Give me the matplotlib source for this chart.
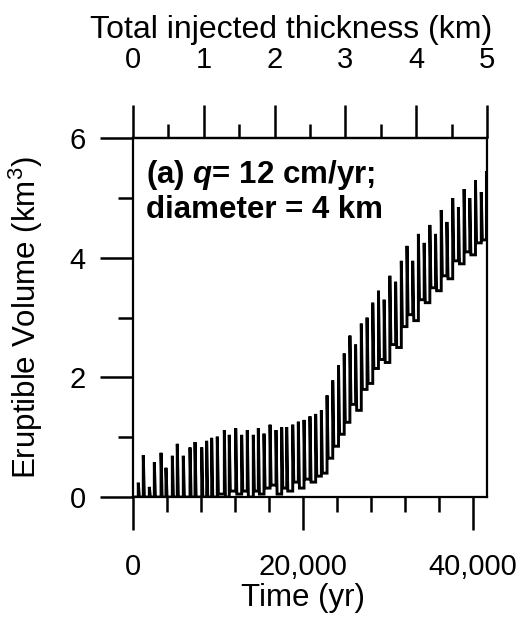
"""
Eruptible volume vs. time for sill injection at q = 12 cm/yr,
with the equivalent injected thickness on the top axis.
"""
import matplotlib
matplotlib.use("Agg")
import matplotlib.pyplot as plt
from matplotlib.ticker import MultipleLocator, FuncFormatter

# injection rate (m/yr) links time to injected thickness
Q_RATE = 0.12
T_MAX = 5000.0 / Q_RATE

# time of each injection (yr), peak and post-cooling volume (km^3)
cycle_time = [
    620, 1210, 1920, 2510, 3300, 3880, 4630, 5210, 5920, 6710,
    7300, 8090, 8670, 9260, 9920, 10750, 11330, 12090, 12790, 13450,
    14160, 14750, 15420, 16130, 16830, 17500, 18090, 18800, 19460, 20130,
    20830, 21500, 22170, 22840, 23510, 24190, 24860, 25530, 26200, 26870,
    27550, 28220, 28890, 29560, 30230, 30910, 31580, 32250, 32920, 33590,
    34270, 34940, 35610, 36280, 36950, 37630, 38300, 38970, 39640, 40310,
    40990, 41600,
]
peak_vol = [
    0.24, 0.70, 0.17, 0.58, 0.74, 0.49, 0.69, 0.89, 0.69, 0.83,
    0.92, 0.83, 0.94, 0.99, 1.01, 1.12, 1.04, 1.15, 1.04, 1.12,
    1.04, 1.15, 1.06, 1.21, 1.12, 1.17, 1.17, 1.21, 1.26, 1.29,
    1.35, 1.39, 1.45, 1.70, 1.95, 2.20, 2.40, 2.70, 2.55, 2.90,
    3.00, 3.25, 3.45, 3.30, 3.70, 3.60, 3.95, 4.20, 3.95, 4.40,
    4.25, 4.55, 4.40, 4.80, 4.60, 5.00, 4.85, 5.15, 5.00, 5.30,
    5.10, 5.45,
]
trough_vol = [
    0.0, 0.0, 0.0, 0.0, 0.0, 0.0, 0.0, 0.0, 0.0, 0.0,
    0.0, 0.0, 0.0, 0.0, 0.05, 0.0, 0.10, 0.05, 0.10, 0.0,
    0.10, 0.05, 0.15, 0.20, 0.05, 0.15, 0.10, 0.25, 0.15, 0.30,
    0.25, 0.35, 0.40, 0.65, 0.85, 1.05, 1.25, 1.55, 1.45, 1.80,
    1.90, 2.15, 2.30, 2.25, 2.55, 2.50, 2.85, 3.05, 2.95, 3.30,
    3.25, 3.50, 3.45, 3.70, 3.65, 3.95, 3.90, 4.10, 4.05, 4.25,
    4.30, 4.45,
]
DECAY = 130.0  # yr taken by each drop after an injection (drawing only)

plt.rcParams["font.family"] = ["Liberation Sans", "DejaVu Sans"]
plt.rcParams["mathtext.fontset"] = "custom"
plt.rcParams["mathtext.it"] = "Liberation Sans:italic:bold"
plt.rcParams["mathtext.rm"] = "Liberation Sans"

# jump at each injection, quick drop, then hold until the next one
xs, ys = [0.0], [0.0]
prev = 0.0
for t, hi, lo in zip(cycle_time, peak_vol, trough_vol):
    xs += [t, t, t + DECAY]
    ys += [prev, hi, lo]
    prev = lo

fig = plt.figure(figsize=(5.29, 6.19), dpi=100)
ax = fig.add_axes([0.2514, 0.197, 0.6692, 0.5797])

ax.plot(xs, ys, color="black", linewidth=2.1, solid_joinstyle="miter")

ax.set_xlim(0, T_MAX)
ax.set_ylim(0, 6)

for side in ["left", "right", "top", "bottom"]:
    ax.spines[side].set_linewidth(1.6)

ax.xaxis.set_major_locator(MultipleLocator(20000))
ax.xaxis.set_minor_locator(MultipleLocator(4000))
ax.xaxis.set_major_formatter(FuncFormatter(lambda v, p: f"{int(v):,}"))
ax.yaxis.set_major_locator(MultipleLocator(2))
ax.yaxis.set_minor_locator(MultipleLocator(1))

ax.tick_params(which="both", direction="out", width=1.8, labelsize=21,
               top=False, right=False)
ax.tick_params(which="major", length=24)
ax.tick_params(which="minor", length=11)
ax.tick_params(axis="x", which="major", pad=16)
ax.tick_params(axis="y", which="major", pad=10)

ax.set_xlabel("Time (yr)", fontsize=22.5)
ax.xaxis.set_label_coords(0.48, -0.24)
ax.set_ylabel("Eruptible Volume (km$^3$)", fontsize=22.5)
ax.yaxis.set_label_coords(-0.248, 0.5)

top = ax.secondary_xaxis("top", functions=(lambda t: t * Q_RATE / 1000.0,
                                           lambda k: k * 1000.0 / Q_RATE))
top.xaxis.set_major_locator(MultipleLocator(1))
top.xaxis.set_minor_locator(MultipleLocator(0.5))
top.tick_params(which="both", direction="out", width=1.8, labelsize=21)
top.tick_params(which="major", length=24, pad=22)
top.tick_params(which="minor", length=10)
top.spines["top"].set_linewidth(1.6)
top.set_xlabel("Total injected thickness (km)", fontsize=23)
top.xaxis.set_label_coords(0.446, 1.28, transform=ax.transAxes)

ax.text(0.037, 0.875, "(a) $q$= 12 cm/yr;", transform=ax.transAxes,
        fontsize=22.5, fontweight="bold", va="baseline", ha="left")
ax.text(0.037, 0.777, "diameter = 4 km", transform=ax.transAxes,
        fontsize=22.5, fontweight="bold", va="baseline", ha="left")

fig.savefig("out.png", dpi=100)
